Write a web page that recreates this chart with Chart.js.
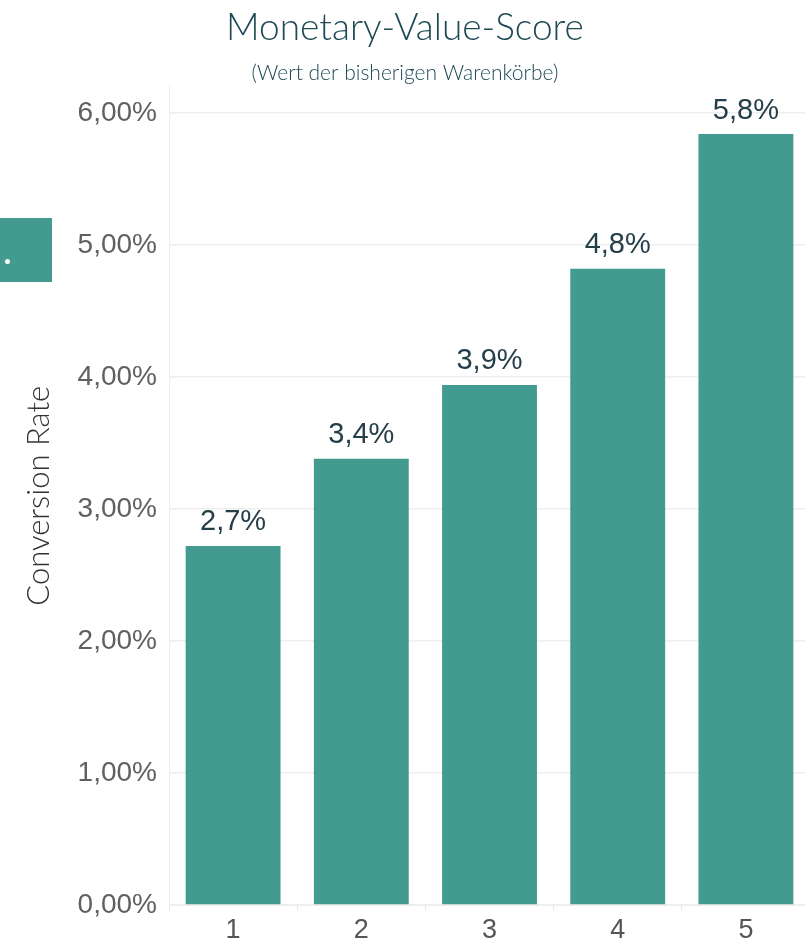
<!DOCTYPE html>
<html>
<head>
<meta charset="utf-8">
<script src="https://cdn.jsdelivr.net/npm/chart.js@4"></script>
<style>
  html, body { margin: 0; padding: 0; background: #fff; overflow: hidden; }
  #wrap { position: relative; width: 810px; height: 944px; }
  #side { position: absolute; left: 0; top: 218px; width: 52px; height: 64px; background: #439a8f; }
  #side span { position: absolute; left: 5px; top: 41px; width: 5px; height: 5px; border-radius: 3px; background: #fff; }
</style>
</head>
<body>
<div id="wrap">
  <canvas id="monetary" width="810" height="944"></canvas>
  <div id="side"><span></span></div>
</div>
<script>
var scores = ['1', '2', '3', '4', '5'];
var conversionRate = [2.72, 3.38, 3.94, 4.82, 5.84];
var valueLabels = ['2,7%', '3,4%', '3,9%', '4,8%', '5,8%'];
var yTicks = [0, 1, 2, 3, 4, 5, 6];

var teal = '#439a8f';
var darkTeal = '#1f4a55';

// labels above each bar
var barLabels = {
    id: 'barLabels',
    afterDatasetsDraw(chart) {
        var ctx = chart.ctx;
        var meta = chart.getDatasetMeta(0);
        ctx.save();
        ctx.font = '29px "Liberation Sans", Arial, sans-serif';
        ctx.fillStyle = '#253f4a';
        ctx.textAlign = 'center';
        ctx.textBaseline = 'bottom';
        meta.data.forEach((bar, i) => {
            ctx.fillText(valueLabels[i], bar.x, bar.y - 9);
        });
        ctx.restore();
    }
};

var ctx = document.getElementById('monetary').getContext('2d');
var chart = new Chart(ctx, {
    type: 'bar',
    data: {
        labels: scores,
        datasets: [{
            data: conversionRate,
            backgroundColor: teal,
            barPercentage: 0.74,
            categoryPercentage: 1.0
        }]
    },
    options: {
        responsive: false,
        animation: false,
        devicePixelRatio: 1,
        layout: { padding: 0 },
        plugins: {
            legend: { display: false },
            tooltip: { enabled: false },
            title: {
                display: true,
                text: 'Monetary-Value-Score',
                color: darkTeal,
                font: { family: 'Lato, "Noto Sans", sans-serif', size: 37, weight: 300 },
                padding: { top: 6, bottom: 0 }
            },
            subtitle: {
                display: true,
                text: '(Wert der bisherigen Warenkörbe)',
                color: darkTeal,
                font: { family: 'Lato, "Noto Sans", sans-serif', size: 21, weight: 300 },
                padding: { top: 10, bottom: 1 }
            }
        },
        scales: {
            x: {
                grid: { drawOnChartArea: false, color: '#e6e6e6', tickLength: 6 },
                border: { color: '#eeeeee' },
                ticks: {
                    color: '#555',
                    padding: 3,
                    font: { family: '"Liberation Sans", Arial, sans-serif', size: 27 }
                },
                afterFit: function(scale) { scale.height = 39; }
            },
            y: {
                min: 0,
                max: 6.2,
                afterBuildTicks: function(scale) {
                    scale.ticks = yTicks.map(v => ({ value: v }));
                },
                ticks: {
                    color: '#606060',
                    padding: 12,
                    font: { family: '"Liberation Sans", Arial, sans-serif', size: 28 },
                    callback: function(v) { return v.toFixed(2).replace('.', ',') + '%'; }
                },
                grid: { color: '#eeeeee', lineWidth: 1.5, drawTicks: false },
                border: { color: '#eeeeee' },
                title: {
                    display: true,
                    text: 'Conversion Rate',
                    color: '#333',
                    padding: { top: 20, bottom: 0 },
                    font: { family: 'Lato, "Noto Sans", sans-serif', size: 31, weight: 300 }
                },
                afterFit: function(scale) { scale.width = 169; }
            }
        }
    },
    plugins: [barLabels]
});
</script>
</body>
</html>
